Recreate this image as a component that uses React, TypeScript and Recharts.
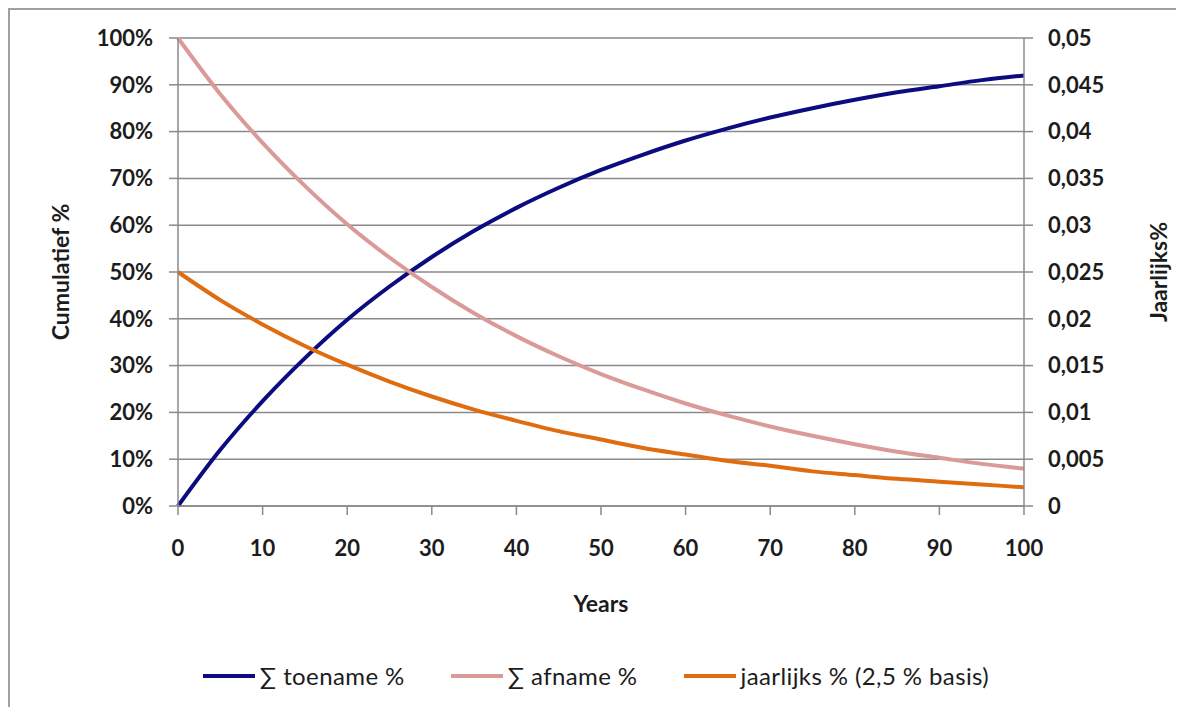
import React from "react";
import { LineChart, Line, XAxis, YAxis, CartesianGrid, Legend } from "recharts";

// Years sampled every 5 years
const years = [0, 5, 10, 15, 20, 25, 30, 35, 40, 45, 50, 55, 60, 65, 70, 75, 80, 85, 90, 95, 100];

// Cumulative increase (%)
const toename = [0, 12, 22.4, 31.6, 39.8, 46.9, 53.2, 58.8, 63.7, 68, 71.8, 75.1, 78.1, 80.7, 83, 85, 86.8, 88.4, 89.7, 91, 92];

// Cumulative decrease (%)
const afname = [100, 88, 77.6, 68.4, 60.2, 53.1, 46.8, 41.2, 36.3, 32, 28.2, 24.9, 21.9, 19.3, 17, 15, 13.2, 11.6, 10.3, 9, 8];

// Annual rate (fraction, 2.5 % basis)
const jaarlijks = [0.025, 0.022, 0.0194, 0.0171, 0.0151, 0.0133, 0.0117, 0.0103, 0.0091, 0.008, 0.0071, 0.0062, 0.0055, 0.0048, 0.0043, 0.0037, 0.0033, 0.0029, 0.0026, 0.0023, 0.002];

const xTicks = [0, 10, 20, 30, 40, 50, 60, 70, 80, 90, 100];
const leftTicks = [0, 10, 20, 30, 40, 50, 60, 70, 80, 90, 100];
const rightTicks = [0, 0.005, 0.01, 0.015, 0.02, 0.025, 0.03, 0.035, 0.04, 0.045, 0.05];

const seriesKeys = ["toename", "afname", "jaarlijks"];
const seriesNames: Record<string, string> = {
  toename: "\u2211 toename %",
  afname: "\u2211 afname %",
  jaarlijks: "jaarlijks % (2,5 % basis)",
};

const data = years.map((y, i) => ({
  year: y,
  toename: toename[i],
  afname: afname[i],
  jaarlijks: jaarlijks[i],
}));

const FONT = "Lato, 'Open Sans', sans-serif";
const AXIS_GRAY = "#8a8a8a";
const TEXT = "#1c1c1c";

const tickStyle = { fontFamily: FONT, fontSize: 22, fontWeight: 700, fill: TEXT };

const fmtRight = (v: number) => (v === 0 ? "0" : String(Number(v.toFixed(3))).replace(".", ","));

const renderLegend = (props: any) => {
  const payload = [...(props.payload || [])].sort(
    (a: any, b: any) => seriesKeys.indexOf(a.dataKey) - seriesKeys.indexOf(b.dataKey)
  );
  return (
    <div style={{ display: "flex", justifyContent: "center", alignItems: "center", fontFamily: FONT, fontSize: 24, letterSpacing: 0.4, color: TEXT }}>
      {payload.map((entry: any, idx: number) => (
        <div key={idx} style={{ display: "flex", alignItems: "center", marginLeft: idx === 0 ? 0 : 46 }}>
          <svg width={52} height={10} style={{ marginRight: 5 }}>
            <line x1={0} y1={5} x2={52} y2={5} stroke={entry.color} strokeWidth={4} />
          </svg>
          <span>{entry.value}</span>
        </div>
      ))}
    </div>
  );
};

const VerticalTitle = (text: string, side: "left" | "right") => (props: any) => {
  const vb = props.viewBox || {};
  const cy = vb.y + vb.height / 2;
  const cx = side === "left" ? vb.x + 52 : vb.x + 134;
  return (
    <text
      x={cx}
      y={cy}
      transform={`rotate(-90 ${cx} ${cy})`}
      textAnchor="middle"
      dominantBaseline="central"
      style={{ fontFamily: FONT, fontSize: 23, fontWeight: 700, fill: TEXT }}
    >
      {text}
    </text>
  );
};

export default function App() {
  return (
    <div style={{ position: "relative", width: 1176, height: 699 }}>
      <div
        style={{
          position: "absolute",
          left: 0,
          top: 0,
          width: 1200,
          height: 720,
          borderLeft: "2px solid #a0a0a0",
          borderTop: "2px solid #a0a0a0",
          boxSizing: "border-box",
        }}
      />
      <div style={{ position: "absolute", left: 0, top: 0 }}>
        <LineChart width={1176} height={699} data={data} margin={{ top: 30, right: 0, bottom: 95, left: 0 }}>
          <CartesianGrid horizontal vertical={false} stroke={AXIS_GRAY} strokeWidth={1.5} yAxisId="left" />
          <XAxis
            dataKey="year"
            type="number"
            domain={[0, 100]}
            ticks={xTicks}
            interval={0}
            height={106}
            tickSize={9}
            tickMargin={25}
            tick={tickStyle}
            stroke={AXIS_GRAY}
            strokeWidth={1.5}
            label={{ value: "Years", position: "insideBottom", offset: 0, style: { fontFamily: FONT, fontSize: 23, fontWeight: 700, fill: TEXT } }}
          />
          <YAxis
            yAxisId="left"
            orientation="left"
            width={170}
            domain={[0, 100]}
            ticks={leftTicks}
            interval={0}
            tickFormatter={(v: number) => `${v}%`}
            tickSize={9}
            tickMargin={16}
            tick={tickStyle}
            stroke={AXIS_GRAY}
            strokeWidth={1.5}
            label={{ content: VerticalTitle("Cumulatief %", "left") }}
          />
          <YAxis
            yAxisId="right"
            orientation="right"
            width={160}
            domain={[0, 0.05]}
            ticks={rightTicks}
            interval={0}
            tickFormatter={fmtRight}
            tickSize={9}
            tickMargin={15}
            tick={{ ...tickStyle, textAnchor: "start" }}
            stroke={AXIS_GRAY}
            strokeWidth={1.5}
            label={{ content: VerticalTitle("Jaarlijks%", "right") }}
          />
          <Line yAxisId="left" type="monotone" dataKey="toename" name={seriesNames.toename} stroke="#0c0c80" strokeWidth={4} dot={false} isAnimationActive={false} />
          <Line yAxisId="left" type="monotone" dataKey="afname" name={seriesNames.afname} stroke="#d99a98" strokeWidth={4} dot={false} isAnimationActive={false} />
          <Line yAxisId="right" type="monotone" dataKey="jaarlijks" name={seriesNames.jaarlijks} stroke="#e06c10" strokeWidth={4} dot={false} isAnimationActive={false} />
          <Legend
            layout="horizontal"
            verticalAlign="middle"
            align="center"
            content={renderLegend}
            wrapperStyle={{ top: 653, left: 0, width: 1176 }}
          />
        </LineChart>
      </div>
    </div>
  );
}
